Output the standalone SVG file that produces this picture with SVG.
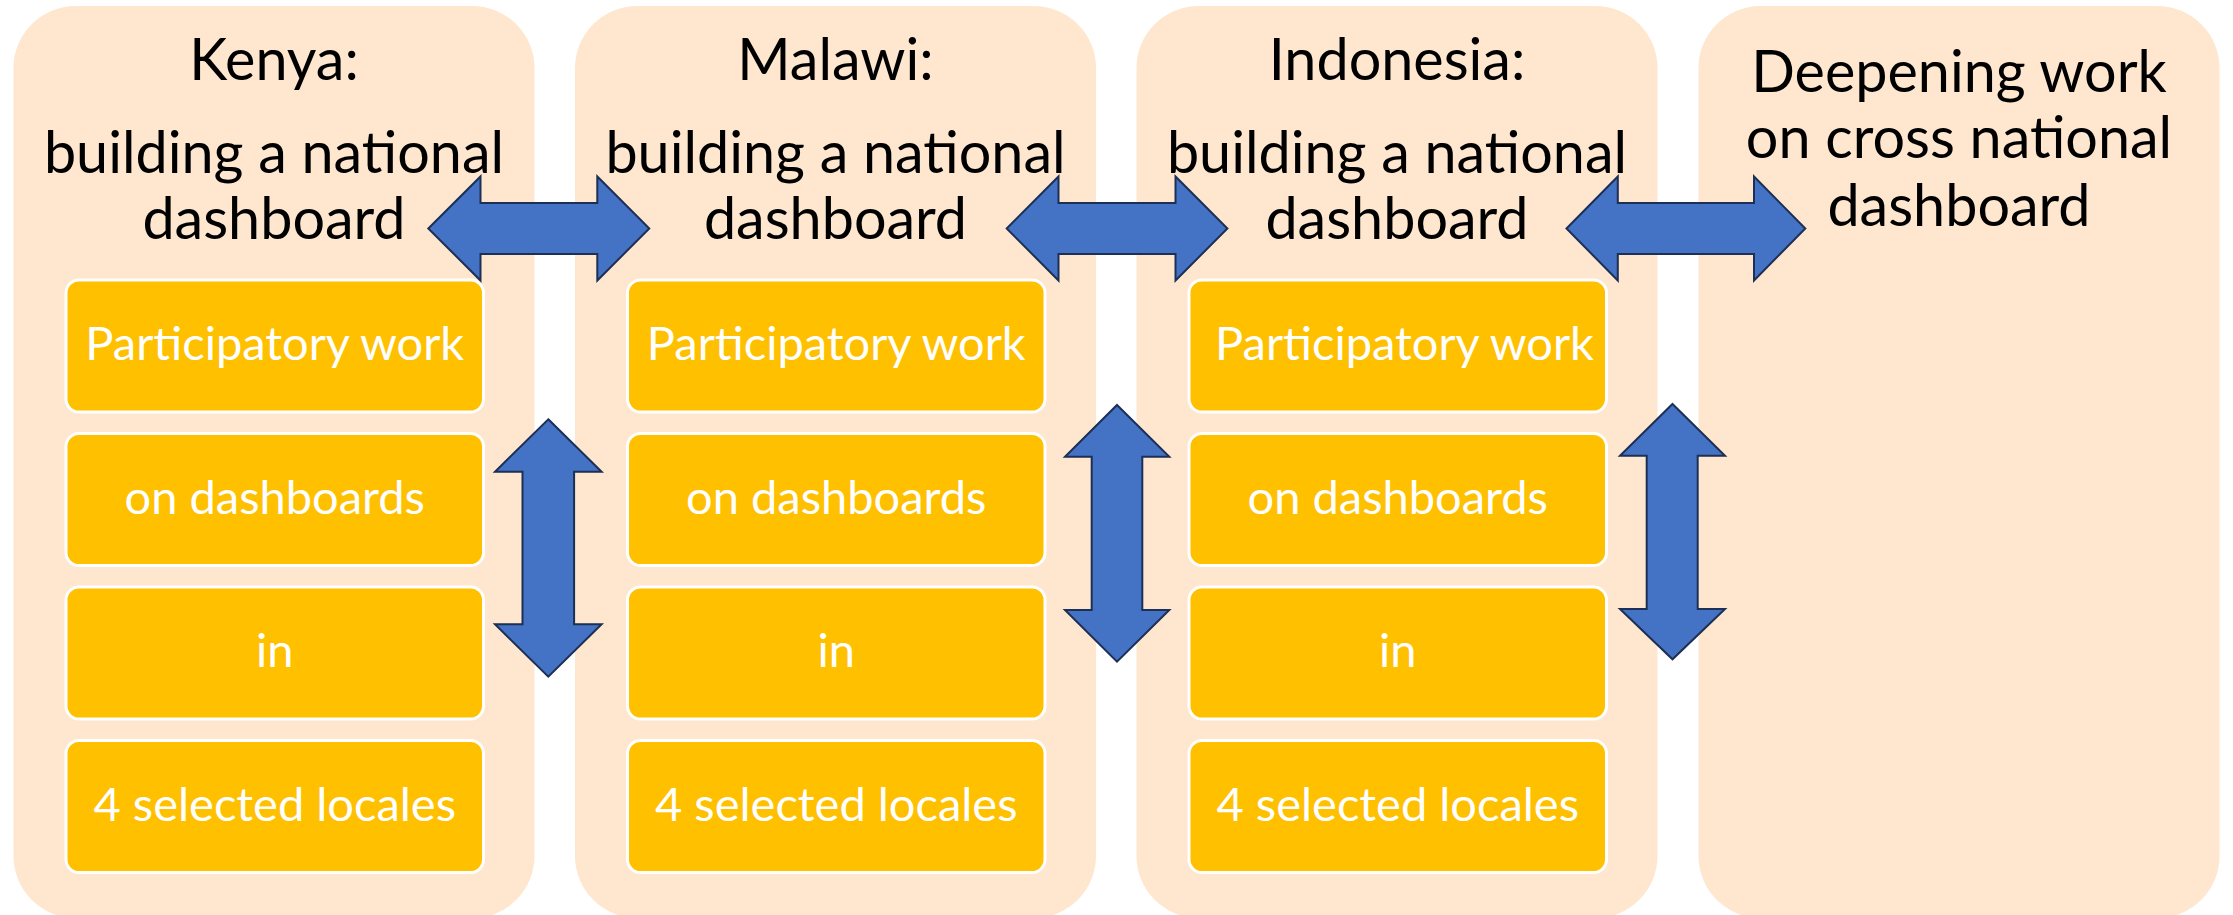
<svg xmlns="http://www.w3.org/2000/svg" width="2233" height="915" viewBox="0 0 2233 915">
  <defs>
    <style>
      .panel { fill: #FEE7CE; }
      .step { fill: #FFC000; stroke: #FFFFFF; stroke-width: 3; }
      .title { font-family: Lato, "Liberation Sans", sans-serif; font-size: 57.5px; fill: #000000; text-anchor: middle; }
      .label { font-family: Lato, "Liberation Sans", sans-serif; font-size: 47px; fill: #FFFFFF; text-anchor: middle; }
      .arrow { fill: #4472C4; stroke: #1C2F55; stroke-width: 2; stroke-linejoin: miter; }
    </style>
  </defs>

  <rect width="2233" height="915" fill="#FFFFFF"/>

  <!-- Kenya column -->
  <g id="kenya">
    <rect class="panel" x="13.5" y="6" width="521" height="912" rx="62" ry="62"/>
    <text class="title" x="274" y="80">Kenya:</text>
    <text class="title" x="274" y="172.5">building a national</text>
    <text class="title" x="274" y="239">dashboard</text>
    <rect class="step" x="66" y="280" width="417.5" height="132" rx="13"/>
    <text class="label" x="274.8" y="360">Participatory work</text>
    <rect class="step" x="66" y="433.5" width="417.5" height="132" rx="13"/>
    <text class="label" x="274.8" y="514">on dashboards</text>
    <rect class="step" x="66" y="587" width="417.5" height="132" rx="13"/>
    <text class="label" x="274.8" y="667">in</text>
    <rect class="step" x="66" y="740.5" width="417.5" height="132" rx="13"/>
    <text class="label" x="274.8" y="821">4 selected locales</text>
  </g>

  <!-- Malawi column -->
  <g id="malawi">
    <rect class="panel" x="575" y="6" width="521" height="912" rx="62" ry="62"/>
    <text class="title" x="835.5" y="80">Malawi:</text>
    <text class="title" x="835.5" y="172.5">building a national</text>
    <text class="title" x="835.5" y="239">dashboard</text>
    <rect class="step" x="627.5" y="280" width="417.5" height="132" rx="13"/>
    <text class="label" x="836.3" y="360">Participatory work</text>
    <rect class="step" x="627.5" y="433.5" width="417.5" height="132" rx="13"/>
    <text class="label" x="836.3" y="514">on dashboards</text>
    <rect class="step" x="627.5" y="587" width="417.5" height="132" rx="13"/>
    <text class="label" x="836.3" y="667">in</text>
    <rect class="step" x="627.5" y="740.5" width="417.5" height="132" rx="13"/>
    <text class="label" x="836.3" y="821">4 selected locales</text>
  </g>

  <!-- Indonesia column -->
  <g id="indonesia">
    <rect class="panel" x="1136.5" y="6" width="521" height="912" rx="62" ry="62"/>
    <text class="title" x="1397" y="80">Indonesia:</text>
    <text class="title" x="1397" y="172.5">building a national</text>
    <text class="title" x="1397" y="239">dashboard</text>
    <rect class="step" x="1189" y="280" width="417.5" height="132" rx="13"/>
    <text class="label" x="1404.5" y="360">Participatory work</text>
    <rect class="step" x="1189" y="433.5" width="417.5" height="132" rx="13"/>
    <text class="label" x="1397.8" y="514">on dashboards</text>
    <rect class="step" x="1189" y="587" width="417.5" height="132" rx="13"/>
    <text class="label" x="1397.8" y="667">in</text>
    <rect class="step" x="1189" y="740.5" width="417.5" height="132" rx="13"/>
    <text class="label" x="1397.8" y="821">4 selected locales</text>
  </g>

  <!-- Cross-national column -->
  <g id="cross-national">
    <rect class="panel" x="1698.5" y="6" width="521" height="912" rx="62" ry="62"/>
    <text class="title" x="1959" y="91.5">Deepening work</text>
    <text class="title" x="1959" y="158.3">on cross national</text>
    <text class="title" x="1959" y="225.5">dashboard</text>
  </g>

  <!-- Two-way arrows between columns -->
  <g id="connectors">
    <!-- horizontal, between title areas -->
    <polygon class="arrow" points="428.3,228.5 480.5,176.5 480.5,203 597.3,203 597.3,176.5 649.3,228.5 597.3,280.5 597.3,254 480.5,254 480.5,280.5"/>
    <polygon class="arrow" points="1006.7,228.5 1058.5,176.5 1058.5,203 1175.5,203 1175.5,176.5 1227.4,228.5 1175.5,280.5 1175.5,254 1058.5,254 1058.5,280.5"/>
    <polygon class="arrow" points="1566.5,228.5 1617.8,176.5 1617.8,203 1754,203 1754,176.5 1805.3,228.5 1754,280.5 1754,254 1617.8,254 1617.8,280.5"/>
    <!-- vertical, between the step stacks -->
    <polygon class="arrow" points="548.3,419.3 601.6,471.7 574.1,471.7 574.1,624.3 601.6,624.3 548.3,676.7 495,624.3 522.5,624.3 522.5,471.7 495,471.7"/>
    <polygon class="arrow" points="1117,405 1169.3,456.7 1142.3,456.7 1142.3,610 1169.3,610 1117,661.7 1065,610 1091.7,610 1091.7,456.7 1065,456.7"/>
    <polygon class="arrow" points="1672.5,404 1725,455.7 1697.7,455.7 1697.7,609 1725,609 1672.5,659.3 1620,609 1646.7,609 1646.7,455.7 1620,455.7"/>
  </g>
</svg>
